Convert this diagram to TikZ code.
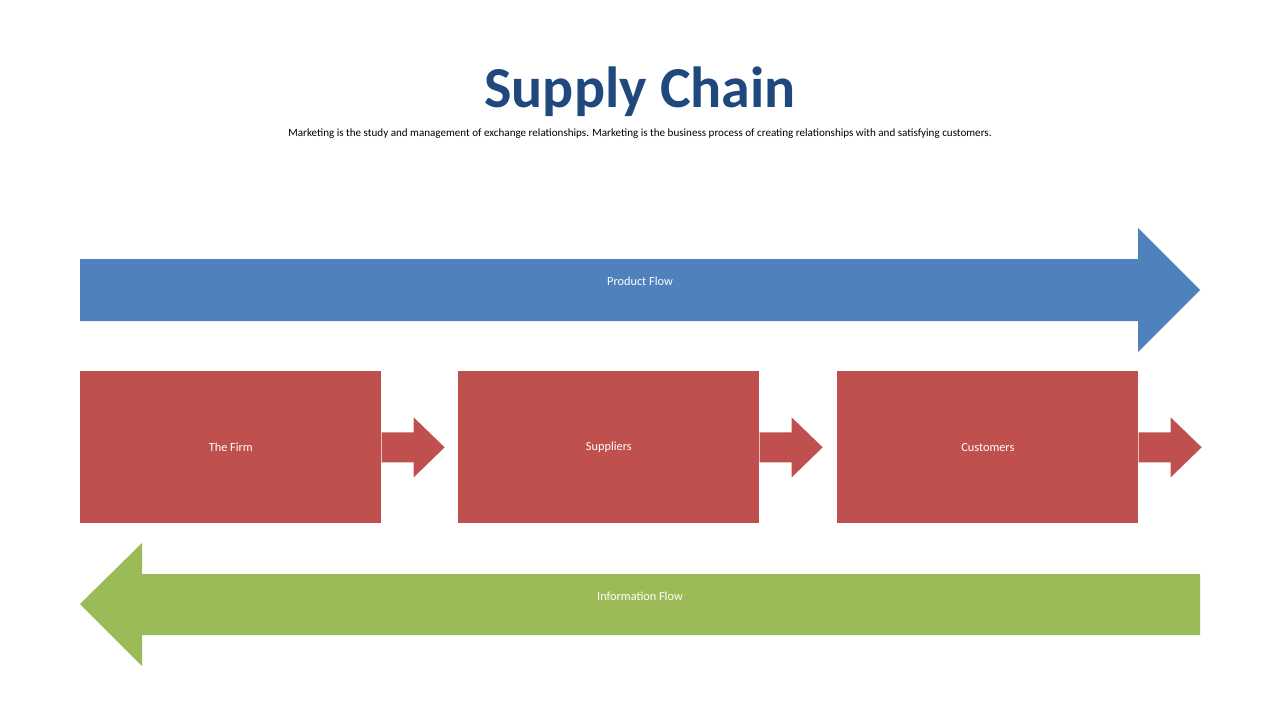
\documentclass[tikz,border=0pt]{standalone}
\usepackage{fontspec}
\setmainfont{Carlito}
\usetikzlibrary{positioning,calc}
\definecolor{titleblue}{RGB}{31,73,125}
\definecolor{flowblue}{RGB}{79,129,189}
\definecolor{boxred}{RGB}{192,80,77}
\definecolor{flowgreen}{RGB}{155,187,89}
\tikzset{
  box/.style={fill=boxred,minimum width=6.02cm,minimum height=3.04cm,inner sep=0pt,text=white,font=\fontsize{7}{8}\selectfont},
  lbl/.style={text=white,font=\fontsize{7}{8}\selectfont}
}
\begin{document}
\begin{tikzpicture}[x=0.02cm,y=-0.02cm]
		\useasboundingbox (0,0) rectangle (1280,720);
		\node[text=titleblue,font=\bfseries\fontsize{33}{36}\selectfont] (title) at (640,92) {Supply Chain};
		\node[font=\fontsize{6.3}{7}\selectfont] (sub) at (640,134) {Marketing is the study and management of exchange relationships. Marketing is the business process of creating relationships with and satisfying customers.};
		
		\fill[flowblue] (80,259)--(1138,259)--(1138,228)--(1200,290)--(1138,352)--(1138,321)--(80,321)--cycle;
		\node[lbl] (product) at (640,281) {Product Flow};
		
		\node[box,anchor=north west] (firm) at (80,371) {The Firm};
		\node[box,anchor=north west] (sup) at (458,371) {Suppliers};
		\node[box,anchor=north west] (cust) at (837,371) {Customers};
		\foreach \b in {firm,sup,cust}
			\fill[boxred] ($(\b.east)+(0,-15)$) -- ++(32,0) -- ++(0,-15) -- ++(31,30) -- ++(-31,30) -- ++(0,-15) -- ++(-32,0) -- cycle;
		
		\fill[flowgreen] (1200,574)--(142,574)--(142,543)--(80,604)--(142,666)--(142,635)--(1200,635)--cycle;
		\node[lbl] (info) at (640,596) {Information Flow};
	\end{tikzpicture}
\end{document}
